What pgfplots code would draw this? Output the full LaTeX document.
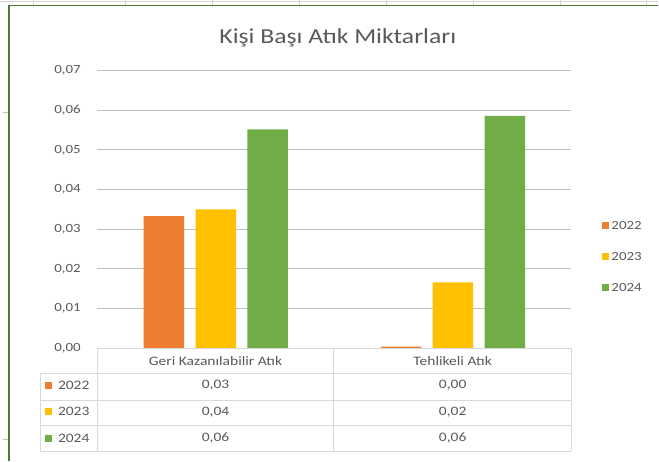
\documentclass[border=0pt]{standalone}
\usepackage{pgfplots}
\pgfplotsset{compat=1.18}
\usepackage{fontspec}
\setmainfont{Carlito}[FakeStretch=1.2]
\definecolor{c22}{HTML}{ED7D31}
\definecolor{c23}{HTML}{FFC000}
\definecolor{c24}{HTML}{70AD47}
\definecolor{txt}{HTML}{595959}
\definecolor{grid}{HTML}{D9D9D9}
\definecolor{frame}{HTML}{4E7A34}
\begin{document}
\begin{tikzpicture}[x=1bp,y=1bp]
\path (0,0) rectangle (659,461);
% Excel sheet remnants
\draw[color=black!18, line width=0.8bp] (0,460) -- (659,460);
\foreach \xx in {33,125,212,299,387,474,561,647} {\draw[color=black!18, line width=0.8bp] (\xx,461) -- (\xx,456);}
\foreach \yy in {349,21} {\draw[color=black!25, line width=0.8bp] (3,\yy) -- (8,\yy);}
\draw[frame, line width=1.4bp] (8.5,0) -- (8.5,456) -- (659,456);
\begin{axis}[
  at={(97bp,112.7bp)}, anchor=south west,
  scale only axis, width=475bp, height=277.9bp,
  xmin=-0.5, xmax=1.5, ymin=0, ymax=0.07,
  ytick={0,0.01,...,0.07},
  scaled y ticks=false,
  xtick=\empty,
  axis line style={draw=none},
  major tick length=0pt,
  ymajorgrids, grid style={grid, line width=0.9bp},
  yticklabel style={font=\fontsize{12.5}{14}\selectfont, text=txt, xshift=-13bp},
  /pgf/number format/.cd, fixed, fixed zerofill, precision=2, use comma, assume math mode=true,
  /pgfplots/.cd,
  ybar=11.5bp, bar width=40.5bp,
  legend style={at={(1.065,0.329)}, anchor=west, draw=none, fill=none,
    font=\fontsize{12.5}{14}\selectfont, text=txt, row sep=17.5bp, inner sep=0pt,
    legend cell align=left},
  legend image code/.code={\fill[#1] (0bp,-3.5bp) rectangle (7bp,3.5bp);},
  clip=false,
]
\addplot[fill=c22, draw=none] coordinates {(0,0.0333) (1,0.0004)};
\addplot[fill=c23, draw=none] coordinates {(0,0.0350) (1,0.0166)};
\addplot[fill=c24, draw=none] coordinates {(0,0.0552) (1,0.0586)};
\legend{2022,2023,2024}
\end{axis}
% title
\node[text=txt, font=\fontsize{21.5}{24}\selectfont] at (338,423) {Kişi Başı Atık Miktarları};
% data table
\begin{scope}[grid, line width=0.9bp]
\draw (97,112.7) -- (572,112.7);
\foreach \yy in {87.7,60.6,35.1,9.5} {\draw (40,\yy) -- (572,\yy);}
\draw (40,87.7) -- (40,9.5);
\foreach \xx in {97,334,572} {\draw (\xx,112.7) -- (\xx,9.5);}
\end{scope}
\begin{scope}[every node/.style={text=txt, font=\fontsize{13}{15}\selectfont}]
\node at (215.5,100) {Geri Kazanılabilir Atık};
\node at (453,100) {Tehlikeli Atık};
\node at (215.5,75.5) {0,03}; \node at (453,75.5) {0,00};
\node at (215.5,49) {0,04}; \node at (453,49) {0,02};
\node at (215.5,22.5) {0,06}; \node at (453,22.5) {0,06};
\fill[c22] (45,72) rectangle (52,79); \node[anchor=west,inner sep=0pt] at (57.5,75.5) {2022};
\fill[c23] (45,45.5) rectangle (52,52.5); \node[anchor=west,inner sep=0pt] at (57.5,49) {2023};
\fill[c24] (45,19) rectangle (52,26); \node[anchor=west,inner sep=0pt] at (57.5,22.5) {2024};
\end{scope}
\end{tikzpicture}
\end{document}
